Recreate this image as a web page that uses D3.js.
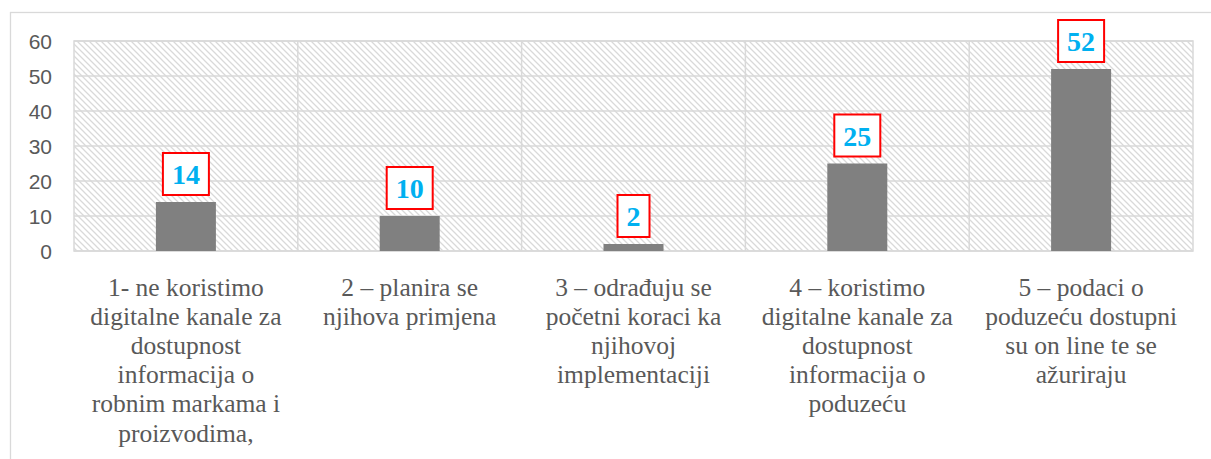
<!DOCTYPE html>
<html>
<head>
<meta charset="utf-8">
<script src="https://cdn.jsdelivr.net/npm/d3@7"></script>
<style>
  body { margin: 0; background: #fff; }
  svg { display: block; }
</style>
</head>
<body>
<div id="chart"></div>
<script>
var categories = ["c1", "c2", "c3", "c4", "c5"];
var values = [14, 10, 2, 25, 52];
var labelLines = [
    ["1- ne koristimo", "digitalne kanale za", "dostupnost", "informacija o", "robnim markama i", "proizvodima,"],
    ["2 \u2013 planira se", "njihova primjena"],
    ["3 \u2013 odra\u0111uju se", "po\u010detni koraci ka", "njihovoj", "implementaciji"],
    ["4 \u2013 koristimo", "digitalne kanale za", "dostupnost", "informacija o", "poduze\u0107u"],
    ["5 \u2013 podaci o", "poduze\u0107u dostupni", "su on line te se", "a\u017euriraju"]
];
var yTicks = [0, 10, 20, 30, 40, 50, 60];

function init() {
    var w = 1211;
    var h = 459;
    var left = 74, right = 1193, top = 41, bottom = 251;

    var svg = d3.select("#chart").append("svg")
        .attr("width", w)
        .attr("height", h);

    // hatch pattern for plot background
    var defs = svg.append("defs");
    defs.append("pattern")
        .attr("id", "hatch")
        .attr("patternUnits", "userSpaceOnUse")
        .attr("width", 6)
        .attr("height", 6)
        .append("path")
        .attr("d", "M-1,-1 L7,7 M-1,5 L1,7 M5,-1 L7,1")
        .attr("stroke", "#d9d9d9")
        .attr("stroke-width", 1.3);

    // outer chart border
    svg.append("rect")
        .attr("x", 10.5).attr("y", 12.5)
        .attr("width", 1300).attr("height", 600)
        .attr("fill", "none")
        .attr("stroke", "#d9d9d9")
        .attr("stroke-width", 1.3);

    var x = d3.scaleBand()
        .domain(categories)
        .range([left, right])
        .paddingInner(0)
        .paddingOuter(0);

    var y = d3.scaleLinear()
        .domain([0, 60])
        .range([bottom, top]);

    svg.append("rect")
        .attr("x", left).attr("y", top)
        .attr("width", right - left).attr("height", bottom - top)
        .attr("fill", "url(#hatch)")
        .attr("stroke", "#d9d9d9")
        .attr("stroke-width", 1.5);

    // horizontal gridlines
    svg.append("g")
        .selectAll("line")
        .data(yTicks)
        .enter()
        .append("line")
        .attr("x1", left).attr("x2", right)
        .attr("y1", d => y(d)).attr("y2", d => y(d))
        .attr("stroke", "#d9d9d9")
        .attr("stroke-width", 1.5);

    // vertical gridlines between categories
    svg.append("g")
        .selectAll("line")
        .data(categories.slice(1))
        .enter()
        .append("line")
        .attr("x1", d => x(d)).attr("x2", d => x(d))
        .attr("y1", top).attr("y2", bottom)
        .attr("stroke", "#d9d9d9")
        .attr("stroke-width", 1.5);

    // y axis
    var yAxis = d3.axisLeft(y).tickValues(yTicks).tickSize(0).tickPadding(0);
    var gy = svg.append("g")
        .attr("transform", "translate(52,0)")
        .call(yAxis);
    gy.select(".domain").remove();
    gy.selectAll("text")
        .attr("fill", "#595959")
        .style("font-family", "'Liberation Sans', Arial, sans-serif")
        .style("font-size", "21px")
        .attr("dy", "0.36em");

    var barW = 60;
    svg.append("g")
        .selectAll("rect")
        .data(values)
        .enter()
        .append("rect")
        .attr("x", (d, i) => x(categories[i]) + x.bandwidth() / 2 - barW / 2)
        .attr("y", d => y(d))
        .attr("width", barW)
        .attr("height", d => y(0) - y(d))
        .attr("fill", "#808080");

    // value labels in red boxes
    var lab = svg.append("g")
        .selectAll("g")
        .data(values)
        .enter()
        .append("g")
        .attr("transform", (d, i) => `translate(${x(categories[i]) + x.bandwidth() / 2},${y(d) - 28})`);

    lab.append("rect")
        .attr("x", d => -(String(d).length * 14 + 18) / 2)
        .attr("y", -21)
        .attr("width", d => String(d).length * 14 + 18)
        .attr("height", 42)
        .attr("fill", "#fff")
        .attr("stroke", "#ff0000")
        .attr("stroke-width", 2);

    lab.append("text")
        .attr("text-anchor", "middle")
        .attr("y", 10)
        .attr("fill", "#00b0f0")
        .style("font-family", "'Liberation Serif', 'Times New Roman', serif")
        .style("font-weight", "bold")
        .style("font-size", "28px")
        .text(d => d);

    // category labels
    var xl = svg.append("g")
        .selectAll("text")
        .data(labelLines)
        .enter()
        .append("text")
        .attr("text-anchor", "middle")
        .attr("fill", "#595959")
        .style("font-family", "'Liberation Serif', 'Times New Roman', serif")
        .style("font-size", "25.5px");

    xl.selectAll("tspan")
        .data((d, i) => d.map(t => ({ t: t, i: i })))
        .enter()
        .append("tspan")
        .attr("x", d => x(categories[d.i]) + x.bandwidth() / 2)
        .attr("y", (d, j) => 295.5 + j * 29.2)
        .text(d => d.t);
}

window.onload = init;
</script>
</body>
</html>
